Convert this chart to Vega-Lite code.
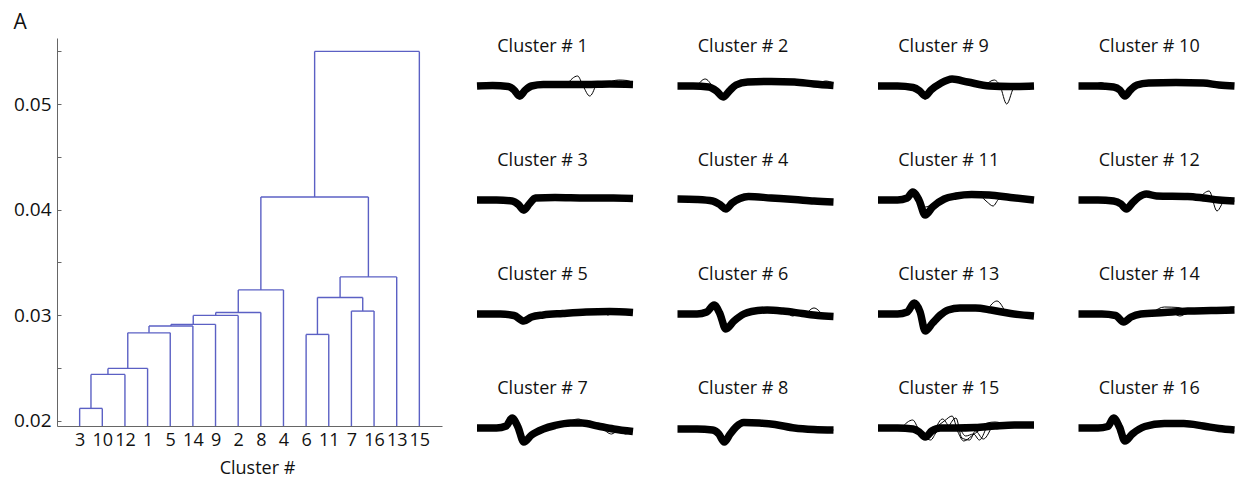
{
"$schema":"https://vega.github.io/schema/vega-lite/v6.json",
"padding":{"left":13,"top":12,"right":0,"bottom":0},
"title":{"text":"A","fontSize":21,"dx":0,"offset":5,"anchor":"start","frame":"bounds"},
"spacing":31,
"datasets":{
"dg":[
{"x":1,"x2":1,"y":0.0195,"y2":0.02117},{"x":1,"x2":2,"y":0.02117,"y2":0.02117},{"x":2,"x2":2,"y":0.0195,"y2":0.02117},
{"x":1.5,"x2":1.5,"y":0.02117,"y2":0.02439},{"x":1.5,"x2":3,"y":0.02439,"y2":0.02439},{"x":3,"x2":3,"y":0.0195,"y2":0.02439},
{"x":2.25,"x2":2.25,"y":0.02439,"y2":0.02496},{"x":2.25,"x2":4,"y":0.02496,"y2":0.02496},{"x":4,"x2":4,"y":0.0195,"y2":0.02496},
{"x":3.125,"x2":3.125,"y":0.02496,"y2":0.02833},{"x":3.125,"x2":5,"y":0.02833,"y2":0.02833},{"x":5,"x2":5,"y":0.0195,"y2":0.02833},
{"x":4.0625,"x2":4.0625,"y":0.02833,"y2":0.02897},{"x":4.0625,"x2":6,"y":0.02897,"y2":0.02897},{"x":6,"x2":6,"y":0.0195,"y2":0.02897},
{"x":5.031,"x2":5.031,"y":0.02897,"y2":0.02913},{"x":5.031,"x2":7,"y":0.02913,"y2":0.02913},{"x":7,"x2":7,"y":0.0195,"y2":0.02913},
{"x":6.016,"x2":6.016,"y":0.02913,"y2":0.02998},{"x":6.016,"x2":8,"y":0.02998,"y2":0.02998},{"x":8,"x2":8,"y":0.0195,"y2":0.02998},
{"x":7.008,"x2":7.008,"y":0.02998,"y2":0.03026},{"x":7.008,"x2":9,"y":0.03026,"y2":0.03026},{"x":9,"x2":9,"y":0.0195,"y2":0.03026},
{"x":8.004,"x2":8.004,"y":0.03026,"y2":0.0324},{"x":8.004,"x2":10,"y":0.0324,"y2":0.0324},{"x":10,"x2":10,"y":0.0195,"y2":0.0324},
{"x":11,"x2":11,"y":0.0195,"y2":0.02818},{"x":11,"x2":12,"y":0.02818,"y2":0.02818},{"x":12,"x2":12,"y":0.0195,"y2":0.02818},
{"x":13,"x2":13,"y":0.0195,"y2":0.03039},{"x":13,"x2":14,"y":0.03039,"y2":0.03039},{"x":14,"x2":14,"y":0.0195,"y2":0.03039},
{"x":11.5,"x2":11.5,"y":0.02818,"y2":0.03168},{"x":11.5,"x2":13.5,"y":0.03168,"y2":0.03168},{"x":13.5,"x2":13.5,"y":0.03039,"y2":0.03168},
{"x":12.5,"x2":12.5,"y":0.03168,"y2":0.03363},{"x":12.5,"x2":15,"y":0.03363,"y2":0.03363},{"x":15,"x2":15,"y":0.0195,"y2":0.03363},
{"x":9.002,"x2":9.002,"y":0.0324,"y2":0.0412},{"x":9.002,"x2":13.75,"y":0.0412,"y2":0.0412},{"x":13.75,"x2":13.75,"y":0.03363,"y2":0.0412},
{"x":11.376,"x2":11.376,"y":0.0412,"y2":0.055},{"x":11.376,"x2":16,"y":0.055,"y2":0.055},{"x":16,"x2":16,"y":0.0195,"y2":0.055}
],
"wf":[
{"c":1,"t":"m","s":0,"a":0},{"c":1,"t":"m","s":4,"a":0.5},{"c":1,"t":"m","s":8,"a":-0.5},{"c":1,"t":"m","s":9.5,"a":-4},{"c":1,"t":"m","s":10.9,"a":-10},{"c":1,"t":"m","s":12.4,"a":-4},{"c":1,"t":"m","s":14,"a":0},{"c":1,"t":"m","s":17,"a":1.5},{"c":1,"t":"m","s":22,"a":1.5},{"c":1,"t":"m","s":28,"a":1.5},{"c":1,"t":"m","s":34,"a":2},{"c":1,"t":"m","s":40,"a":1.5},
{"c":1,"t":"o1","s":23,"a":1.5},{"c":1,"t":"o1","s":25.8,"a":10},{"c":1,"t":"o1","s":27.2,"a":0},{"c":1,"t":"o1","s":28.9,"a":-10},{"c":1,"t":"o1","s":30.5,"a":1.5},
{"c":1,"t":"o2","s":33,"a":2},{"c":1,"t":"o2","s":36.3,"a":6},{"c":1,"t":"o2","s":38.5,"a":5.5},{"c":1,"t":"o2","s":40,"a":3},
{"c":1,"t":"o3","s":9,"a":-2},{"c":1,"t":"o3","s":10.9,"a":-13},{"c":1,"t":"o3","s":12.8,"a":-2},

{"c":2,"t":"m","s":0,"a":0},{"c":2,"t":"m","s":4,"a":0},{"c":2,"t":"m","s":8,"a":-1},{"c":2,"t":"m","s":10,"a":-5},{"c":2,"t":"m","s":11.7,"a":-11},{"c":2,"t":"m","s":13.3,"a":-5},{"c":2,"t":"m","s":15,"a":1},{"c":2,"t":"m","s":18,"a":4},{"c":2,"t":"m","s":24,"a":4.5},{"c":2,"t":"m","s":30,"a":4},{"c":2,"t":"m","s":35,"a":2},{"c":2,"t":"m","s":40,"a":0.5},
{"c":2,"t":"o1","s":5,"a":0},{"c":2,"t":"o1","s":7.1,"a":7},{"c":2,"t":"o1","s":9,"a":-1},
{"c":2,"t":"o2","s":36,"a":1.5},{"c":2,"t":"o2","s":38,"a":5},{"c":2,"t":"o2","s":40,"a":3},
{"c":2,"t":"o3","s":10,"a":-4},{"c":2,"t":"o3","s":11.7,"a":-13},{"c":2,"t":"o3","s":13.5,"a":-3},

{"c":9,"t":"m","s":0,"a":0},{"c":9,"t":"m","s":5,"a":0},{"c":9,"t":"m","s":9,"a":-1.5},{"c":9,"t":"m","s":10.7,"a":-5},{"c":9,"t":"m","s":12.1,"a":-10},{"c":9,"t":"m","s":13.6,"a":-4},{"c":9,"t":"m","s":16,"a":2.5},{"c":9,"t":"m","s":19,"a":7},{"c":9,"t":"m","s":23,"a":4},{"c":9,"t":"m","s":28.6,"a":0},{"c":9,"t":"m","s":34,"a":-0.5},{"c":9,"t":"m","s":40,"a":0},
{"c":9,"t":"o1","s":27.5,"a":0.5},{"c":9,"t":"o1","s":29.8,"a":6},{"c":9,"t":"o1","s":31.3,"a":0},{"c":9,"t":"o1","s":33,"a":-18},{"c":9,"t":"o1","s":35,"a":-1},{"c":9,"t":"o1","s":37,"a":0},
{"c":9,"t":"o2","s":10,"a":-2},{"c":9,"t":"o2","s":12.1,"a":-13},{"c":9,"t":"o2","s":14,"a":-2},

{"c":10,"t":"m","s":0,"a":0},{"c":10,"t":"m","s":5,"a":0},{"c":10,"t":"m","s":9,"a":-1},{"c":10,"t":"m","s":10.6,"a":-4},{"c":10,"t":"m","s":11.9,"a":-10},{"c":10,"t":"m","s":13.3,"a":-4},{"c":10,"t":"m","s":15,"a":1},{"c":10,"t":"m","s":18,"a":3},{"c":10,"t":"m","s":25,"a":3.5},{"c":10,"t":"m","s":32,"a":3},{"c":10,"t":"m","s":36,"a":1},{"c":10,"t":"m","s":40,"a":0},
{"c":10,"t":"o1","s":4,"a":0},{"c":10,"t":"o1","s":5.8,"a":3.5},{"c":10,"t":"o1","s":7.5,"a":0},
{"c":10,"t":"o2","s":10.5,"a":-3},{"c":10,"t":"o2","s":11.9,"a":-12},{"c":10,"t":"o2","s":13.5,"a":-2},

{"c":3,"t":"m","s":0,"a":0},{"c":3,"t":"m","s":5,"a":0},{"c":3,"t":"m","s":9,"a":-1},{"c":3,"t":"m","s":10.6,"a":-4.5},{"c":3,"t":"m","s":12,"a":-10},{"c":3,"t":"m","s":13.4,"a":-4},{"c":3,"t":"m","s":15,"a":2},{"c":3,"t":"m","s":20,"a":2.5},{"c":3,"t":"m","s":28,"a":2},{"c":3,"t":"m","s":35,"a":2},{"c":3,"t":"m","s":40,"a":1.5},
{"c":3,"t":"o1","s":10.5,"a":-3},{"c":3,"t":"o1","s":12,"a":-13},{"c":3,"t":"o1","s":13.6,"a":-2},

{"c":4,"t":"m","s":0,"a":1},{"c":4,"t":"m","s":5,"a":0.5},{"c":4,"t":"m","s":9,"a":-1},{"c":4,"t":"m","s":11,"a":-5},{"c":4,"t":"m","s":12.4,"a":-9},{"c":4,"t":"m","s":14,"a":-3},{"c":4,"t":"m","s":16,"a":1.5},{"c":4,"t":"m","s":18.2,"a":3.5},{"c":4,"t":"m","s":24,"a":2},{"c":4,"t":"m","s":30,"a":0.5},{"c":4,"t":"m","s":35,"a":-1},{"c":4,"t":"m","s":40,"a":-2},
{"c":4,"t":"o1","s":16,"a":3},{"c":4,"t":"o1","s":18,"a":5},{"c":4,"t":"o1","s":20,"a":2.5},
{"c":4,"t":"o2","s":11,"a":-4},{"c":4,"t":"o2","s":12.4,"a":-11},{"c":4,"t":"o2","s":14,"a":-2},

{"c":11,"t":"m","s":0,"a":0},{"c":11,"t":"m","s":5,"a":0},{"c":11,"t":"m","s":7.5,"a":2},{"c":11,"t":"m","s":8.9,"a":8},{"c":11,"t":"m","s":10.5,"a":0},{"c":11,"t":"m","s":12.1,"a":-15},{"c":11,"t":"m","s":14,"a":-7},{"c":11,"t":"m","s":17,"a":1},{"c":11,"t":"m","s":20,"a":4},{"c":11,"t":"m","s":24,"a":5.5},{"c":11,"t":"m","s":28.5,"a":5},{"c":11,"t":"m","s":34,"a":2.5},{"c":11,"t":"m","s":40,"a":0},
{"c":11,"t":"o1","s":10,"a":2},{"c":11,"t":"o1","s":12.1,"a":-7},{"c":11,"t":"o1","s":14,"a":-4},
{"c":11,"t":"o2","s":26,"a":5.5},{"c":11,"t":"o2","s":28,"a":-2},{"c":11,"t":"o2","s":29.5,"a":-6},{"c":11,"t":"o2","s":31,"a":1},{"c":11,"t":"o2","s":33,"a":3},
{"c":11,"t":"o3","s":22,"a":5},{"c":11,"t":"o3","s":24.5,"a":8},{"c":11,"t":"o3","s":27,"a":5.5},

{"c":12,"t":"m","s":0,"a":0},{"c":12,"t":"m","s":5,"a":0},{"c":12,"t":"m","s":9,"a":-1},{"c":12,"t":"m","s":10.9,"a":-4},{"c":12,"t":"m","s":12.3,"a":-9},{"c":12,"t":"m","s":13.8,"a":-3},{"c":12,"t":"m","s":15.5,"a":3},{"c":12,"t":"m","s":17.4,"a":6},{"c":12,"t":"m","s":20,"a":4},{"c":12,"t":"m","s":28,"a":3.5},{"c":12,"t":"m","s":32,"a":2},{"c":12,"t":"m","s":36,"a":0},{"c":12,"t":"m","s":40,"a":-1},
{"c":12,"t":"o1","s":31,"a":2},{"c":12,"t":"o1","s":33.5,"a":9},{"c":12,"t":"o1","s":35.5,"a":-11},{"c":12,"t":"o1","s":37.5,"a":-1},{"c":12,"t":"o1","s":40,"a":-1},
{"c":12,"t":"o2","s":15,"a":3},{"c":12,"t":"o2","s":17.4,"a":8},{"c":12,"t":"o2","s":20,"a":4},

{"c":5,"t":"m","s":0,"a":0},{"c":5,"t":"m","s":6,"a":0},{"c":5,"t":"m","s":9.5,"a":-1.5},{"c":5,"t":"m","s":12,"a":-7},{"c":5,"t":"m","s":14,"a":-3},{"c":5,"t":"m","s":17,"a":-1},{"c":5,"t":"m","s":22,"a":0.5},{"c":5,"t":"m","s":28,"a":2},{"c":5,"t":"m","s":34,"a":2.5},{"c":5,"t":"m","s":40,"a":1.5},
{"c":5,"t":"o1","s":10,"a":-2},{"c":5,"t":"o1","s":12.3,"a":-9},{"c":5,"t":"o1","s":14.5,"a":-3},
{"c":5,"t":"o2","s":30,"a":2},{"c":5,"t":"o2","s":32,"a":3.5},{"c":5,"t":"o2","s":33.5,"a":-1},{"c":5,"t":"o2","s":35,"a":2},

{"c":6,"t":"m","s":0,"a":0},{"c":6,"t":"m","s":5,"a":0},{"c":6,"t":"m","s":7.5,"a":2},{"c":6,"t":"m","s":9.4,"a":9},{"c":6,"t":"m","s":10.8,"a":1},{"c":6,"t":"m","s":12.4,"a":-15},{"c":6,"t":"m","s":14.5,"a":-7},{"c":6,"t":"m","s":17,"a":0},{"c":6,"t":"m","s":19,"a":2.5},{"c":6,"t":"m","s":23,"a":4},{"c":6,"t":"m","s":27,"a":3},{"c":6,"t":"m","s":32,"a":0.5},{"c":6,"t":"m","s":36,"a":-1.5},{"c":6,"t":"m","s":40,"a":-2.5},
{"c":6,"t":"o1","s":33,"a":0},{"c":6,"t":"o1","s":35,"a":6},{"c":6,"t":"o1","s":37,"a":0},
{"c":6,"t":"o2","s":28,"a":2.5},{"c":6,"t":"o2","s":29.5,"a":-2},{"c":6,"t":"o2","s":31,"a":1},

{"c":13,"t":"m","s":0,"a":0},{"c":13,"t":"m","s":5,"a":0},{"c":13,"t":"m","s":7.5,"a":2},{"c":13,"t":"m","s":9.3,"a":11},{"c":13,"t":"m","s":10.8,"a":2},{"c":13,"t":"m","s":12.1,"a":-17},{"c":13,"t":"m","s":14,"a":-9},{"c":13,"t":"m","s":16,"a":-1},{"c":13,"t":"m","s":18,"a":4},{"c":13,"t":"m","s":21,"a":6},{"c":13,"t":"m","s":25,"a":6},{"c":13,"t":"m","s":29,"a":4},{"c":13,"t":"m","s":34,"a":0.5},{"c":13,"t":"m","s":40,"a":-2},
{"c":13,"t":"o1","s":28,"a":4},{"c":13,"t":"o1","s":30.5,"a":13},{"c":13,"t":"o1","s":32.5,"a":3},

{"c":14,"t":"m","s":0,"a":0},{"c":14,"t":"m","s":6,"a":0},{"c":14,"t":"m","s":9.5,"a":-1.5},{"c":14,"t":"m","s":11.6,"a":-8},{"c":14,"t":"m","s":13.5,"a":-3},{"c":14,"t":"m","s":16,"a":0},{"c":14,"t":"m","s":22,"a":1.5},{"c":14,"t":"m","s":28,"a":3},{"c":14,"t":"m","s":34,"a":3.5},{"c":14,"t":"m","s":40,"a":4},
{"c":14,"t":"o1","s":19,"a":1.5},{"c":14,"t":"o1","s":22,"a":7},{"c":14,"t":"o1","s":25.5,"a":6.5},{"c":14,"t":"o1","s":28,"a":3},
{"c":14,"t":"o2","s":35,"a":3.5},{"c":14,"t":"o2","s":37.5,"a":3.5},{"c":14,"t":"o2","s":39,"a":7},{"c":14,"t":"o2","s":40,"a":7},
{"c":14,"t":"o3","s":24,"a":2.5},{"c":14,"t":"o3","s":26,"a":-2},{"c":14,"t":"o3","s":28,"a":2.5},

{"c":7,"t":"m","s":0,"a":0},{"c":7,"t":"m","s":5,"a":0},{"c":7,"t":"m","s":7.5,"a":2},{"c":7,"t":"m","s":9,"a":10},{"c":7,"t":"m","s":10.5,"a":1},{"c":7,"t":"m","s":12,"a":-14},{"c":7,"t":"m","s":14,"a":-7},{"c":7,"t":"m","s":17,"a":-1},{"c":7,"t":"m","s":20,"a":2.5},{"c":7,"t":"m","s":24,"a":5},{"c":7,"t":"m","s":27,"a":5},{"c":7,"t":"m","s":31,"a":2},{"c":7,"t":"m","s":35,"a":-1},{"c":7,"t":"m","s":40,"a":-3.5},
{"c":7,"t":"o1","s":23,"a":5},{"c":7,"t":"o1","s":26,"a":9},{"c":7,"t":"o1","s":28,"a":4.5},
{"c":7,"t":"o2","s":32,"a":1},{"c":7,"t":"o2","s":34.5,"a":-6},{"c":7,"t":"o2","s":36.5,"a":-2},{"c":7,"t":"o2","s":38,"a":-6},{"c":7,"t":"o2","s":40,"a":-3},

{"c":8,"t":"m","s":0,"a":-1},{"c":8,"t":"m","s":5,"a":-1},{"c":8,"t":"m","s":9,"a":-2},{"c":8,"t":"m","s":10.6,"a":-6},{"c":8,"t":"m","s":12,"a":-14},{"c":8,"t":"m","s":13.5,"a":-6},{"c":8,"t":"m","s":15,"a":1},{"c":8,"t":"m","s":17,"a":5.5},{"c":8,"t":"m","s":21,"a":5},{"c":8,"t":"m","s":25,"a":3.5},{"c":8,"t":"m","s":30,"a":0},{"c":8,"t":"m","s":35,"a":-1.5},{"c":8,"t":"m","s":40,"a":-2},
{"c":8,"t":"o1","s":34,"a":-1},{"c":8,"t":"o1","s":36,"a":-4},{"c":8,"t":"o1","s":37.5,"a":-1},{"c":8,"t":"o1","s":39,"a":-4},{"c":8,"t":"o1","s":40,"a":-2},

{"c":15,"t":"m","s":0,"a":0},{"c":15,"t":"m","s":5,"a":0},{"c":15,"t":"m","s":9,"a":-1},{"c":15,"t":"m","s":10.6,"a":-4},{"c":15,"t":"m","s":12.1,"a":-9},{"c":15,"t":"m","s":13.8,"a":-3},{"c":15,"t":"m","s":16,"a":0},{"c":15,"t":"m","s":20,"a":0},{"c":15,"t":"m","s":25,"a":0.5},{"c":15,"t":"m","s":30,"a":2},{"c":15,"t":"m","s":35,"a":3},{"c":15,"t":"m","s":40,"a":3},
{"c":15,"t":"o1","s":6,"a":0},{"c":15,"t":"o1","s":8.9,"a":8},{"c":15,"t":"o1","s":10.5,"a":-2},{"c":15,"t":"o1","s":12.1,"a":-10},{"c":15,"t":"o1","s":14,"a":-5},{"c":15,"t":"o1","s":16.5,"a":9},{"c":15,"t":"o1","s":18,"a":2},
{"c":15,"t":"o2","s":14,"a":-2},{"c":15,"t":"o2","s":17,"a":7},{"c":15,"t":"o2","s":19,"a":12},{"c":15,"t":"o2","s":20.5,"a":-4},{"c":15,"t":"o2","s":22,"a":-13},{"c":15,"t":"o2","s":24,"a":-8},{"c":15,"t":"o2","s":26,"a":-2},
{"c":15,"t":"o3","s":18,"a":0},{"c":15,"t":"o3","s":20,"a":10},{"c":15,"t":"o3","s":21.5,"a":-10},{"c":15,"t":"o3","s":23.5,"a":-12},{"c":15,"t":"o3","s":25,"a":-3},{"c":15,"t":"o3","s":27,"a":-11},{"c":15,"t":"o3","s":29,"a":0},
{"c":15,"t":"o4","s":12,"a":-9},{"c":15,"t":"o4","s":13.5,"a":-12},{"c":15,"t":"o4","s":15,"a":-4},{"c":15,"t":"o4","s":17,"a":1},
{"c":15,"t":"o5","s":26,"a":1},{"c":15,"t":"o5","s":28,"a":5},{"c":15,"t":"o5","s":30,"a":6},{"c":15,"t":"o5","s":33,"a":3},
{"c":15,"t":"o6","s":21,"a":0},{"c":15,"t":"o6","s":22.5,"a":-8},{"c":15,"t":"o6","s":24.5,"a":-6},{"c":15,"t":"o6","s":26,"a":-12},{"c":15,"t":"o6","s":27.5,"a":-2},

{"c":16,"t":"m","s":0,"a":0},{"c":16,"t":"m","s":5,"a":0},{"c":16,"t":"m","s":7.5,"a":1.5},{"c":16,"t":"m","s":9,"a":10},{"c":16,"t":"m","s":10.5,"a":1},{"c":16,"t":"m","s":11.9,"a":-13},{"c":16,"t":"m","s":13.8,"a":-6},{"c":16,"t":"m","s":17,"a":1.5},{"c":16,"t":"m","s":22,"a":4.5},{"c":16,"t":"m","s":27,"a":4.5},{"c":16,"t":"m","s":32,"a":2},{"c":16,"t":"m","s":36,"a":-0.5},{"c":16,"t":"m","s":40,"a":-2},
{"c":16,"t":"o1","s":36,"a":0},{"c":16,"t":"o1","s":38,"a":-3},{"c":16,"t":"o1","s":40,"a":-3}
]
},
"hconcat":[
{
"width":385,"height":388,
"data":{"name":"dg"},
"mark":{"type":"rule","color":"#5b60c4","strokeWidth":1.4},
"encoding":{
"x":{"field":"x","type":"quantitative","scale":{"domain":[0,17]},"axis":{"values":[1,2,3,4,5,6,7,8,9,10,11,12,13,14,15,16],"labelExpr":"['','3','10','12','1','5','14','9','2','8','4','6','11','7','16','13','15'][datum.value]","ticks":false,"labelPadding":5,"labelFontSize":18,"labelOverlap":false,"labelFlush":false,"title":"Cluster #","titleFontSize":18,"titlePadding":10,"titleX":200}},
"x2":{"field":"x2"},
"y":{"field":"y","type":"quantitative","scale":{"domain":[0.0195,0.05627],"zero":false,"nice":false},"axis":{"values":[0.02,0.025,0.03,0.035,0.04,0.045,0.05,0.055],"labelExpr":"round(datum.value*1000) % 10 == 0 ? format(datum.value, '.2f') : ''","tickSize":-4,"labelPadding":10,"labelFontSize":19,"labelOverlap":false,"labelFlush":false,"title":null}},
"y2":{"field":"y2"}
}
},
{
"data":{"name":"wf"},
"columns":4,
"spacing":{"row":41,"column":36.5},
"concat":[
{"title":"Cluster # 1","width":156,"height":73,"transform":[{"filter":"datum.c==1"}],"mark":{"type":"line","interpolate":"monotone","color":"#000","strokeJoin":"round"},"encoding":{"x":{"field":"s","type":"quantitative","scale":{"domain":[0,40]},"axis":null},"y":{"field":"a","type":"quantitative","scale":{"domain":[-25,48]},"axis":null},"detail":{"field":"t","type":"nominal"},"strokeWidth":{"condition":{"test":"datum.t=='m'","value":7.5},"value":1}}},
{"title":"Cluster # 2","width":156,"height":73,"transform":[{"filter":"datum.c==2"}],"mark":{"type":"line","interpolate":"monotone","color":"#000","strokeJoin":"round"},"encoding":{"x":{"field":"s","type":"quantitative","scale":{"domain":[0,40]},"axis":null},"y":{"field":"a","type":"quantitative","scale":{"domain":[-25,48]},"axis":null},"detail":{"field":"t","type":"nominal"},"strokeWidth":{"condition":{"test":"datum.t=='m'","value":7.5},"value":1}}},
{"title":"Cluster # 9","width":156,"height":73,"transform":[{"filter":"datum.c==9"}],"mark":{"type":"line","interpolate":"monotone","color":"#000","strokeJoin":"round"},"encoding":{"x":{"field":"s","type":"quantitative","scale":{"domain":[0,40]},"axis":null},"y":{"field":"a","type":"quantitative","scale":{"domain":[-25,48]},"axis":null},"detail":{"field":"t","type":"nominal"},"strokeWidth":{"condition":{"test":"datum.t=='m'","value":7.5},"value":1}}},
{"title":"Cluster # 10","width":156,"height":73,"transform":[{"filter":"datum.c==10"}],"mark":{"type":"line","interpolate":"monotone","color":"#000","strokeJoin":"round"},"encoding":{"x":{"field":"s","type":"quantitative","scale":{"domain":[0,40]},"axis":null},"y":{"field":"a","type":"quantitative","scale":{"domain":[-25,48]},"axis":null},"detail":{"field":"t","type":"nominal"},"strokeWidth":{"condition":{"test":"datum.t=='m'","value":7.5},"value":1}}},
{"title":"Cluster # 3","width":156,"height":73,"transform":[{"filter":"datum.c==3"}],"mark":{"type":"line","interpolate":"monotone","color":"#000","strokeJoin":"round"},"encoding":{"x":{"field":"s","type":"quantitative","scale":{"domain":[0,40]},"axis":null},"y":{"field":"a","type":"quantitative","scale":{"domain":[-25,48]},"axis":null},"detail":{"field":"t","type":"nominal"},"strokeWidth":{"condition":{"test":"datum.t=='m'","value":7.5},"value":1}}},
{"title":"Cluster # 4","width":156,"height":73,"transform":[{"filter":"datum.c==4"}],"mark":{"type":"line","interpolate":"monotone","color":"#000","strokeJoin":"round"},"encoding":{"x":{"field":"s","type":"quantitative","scale":{"domain":[0,40]},"axis":null},"y":{"field":"a","type":"quantitative","scale":{"domain":[-25,48]},"axis":null},"detail":{"field":"t","type":"nominal"},"strokeWidth":{"condition":{"test":"datum.t=='m'","value":7.5},"value":1}}},
{"title":"Cluster # 11","width":156,"height":73,"transform":[{"filter":"datum.c==11"}],"mark":{"type":"line","interpolate":"monotone","color":"#000","strokeJoin":"round"},"encoding":{"x":{"field":"s","type":"quantitative","scale":{"domain":[0,40]},"axis":null},"y":{"field":"a","type":"quantitative","scale":{"domain":[-25,48]},"axis":null},"detail":{"field":"t","type":"nominal"},"strokeWidth":{"condition":{"test":"datum.t=='m'","value":7.5},"value":1}}},
{"title":"Cluster # 12","width":156,"height":73,"transform":[{"filter":"datum.c==12"}],"mark":{"type":"line","interpolate":"monotone","color":"#000","strokeJoin":"round"},"encoding":{"x":{"field":"s","type":"quantitative","scale":{"domain":[0,40]},"axis":null},"y":{"field":"a","type":"quantitative","scale":{"domain":[-25,48]},"axis":null},"detail":{"field":"t","type":"nominal"},"strokeWidth":{"condition":{"test":"datum.t=='m'","value":7.5},"value":1}}},
{"title":"Cluster # 5","width":156,"height":73,"transform":[{"filter":"datum.c==5"}],"mark":{"type":"line","interpolate":"monotone","color":"#000","strokeJoin":"round"},"encoding":{"x":{"field":"s","type":"quantitative","scale":{"domain":[0,40]},"axis":null},"y":{"field":"a","type":"quantitative","scale":{"domain":[-25,48]},"axis":null},"detail":{"field":"t","type":"nominal"},"strokeWidth":{"condition":{"test":"datum.t=='m'","value":7.5},"value":1}}},
{"title":"Cluster # 6","width":156,"height":73,"transform":[{"filter":"datum.c==6"}],"mark":{"type":"line","interpolate":"monotone","color":"#000","strokeJoin":"round"},"encoding":{"x":{"field":"s","type":"quantitative","scale":{"domain":[0,40]},"axis":null},"y":{"field":"a","type":"quantitative","scale":{"domain":[-25,48]},"axis":null},"detail":{"field":"t","type":"nominal"},"strokeWidth":{"condition":{"test":"datum.t=='m'","value":7.5},"value":1}}},
{"title":"Cluster # 13","width":156,"height":73,"transform":[{"filter":"datum.c==13"}],"mark":{"type":"line","interpolate":"monotone","color":"#000","strokeJoin":"round"},"encoding":{"x":{"field":"s","type":"quantitative","scale":{"domain":[0,40]},"axis":null},"y":{"field":"a","type":"quantitative","scale":{"domain":[-25,48]},"axis":null},"detail":{"field":"t","type":"nominal"},"strokeWidth":{"condition":{"test":"datum.t=='m'","value":7.5},"value":1}}},
{"title":"Cluster # 14","width":156,"height":73,"transform":[{"filter":"datum.c==14"}],"mark":{"type":"line","interpolate":"monotone","color":"#000","strokeJoin":"round"},"encoding":{"x":{"field":"s","type":"quantitative","scale":{"domain":[0,40]},"axis":null},"y":{"field":"a","type":"quantitative","scale":{"domain":[-25,48]},"axis":null},"detail":{"field":"t","type":"nominal"},"strokeWidth":{"condition":{"test":"datum.t=='m'","value":7.5},"value":1}}},
{"title":"Cluster # 7","width":156,"height":73,"transform":[{"filter":"datum.c==7"}],"mark":{"type":"line","interpolate":"monotone","color":"#000","strokeJoin":"round"},"encoding":{"x":{"field":"s","type":"quantitative","scale":{"domain":[0,40]},"axis":null},"y":{"field":"a","type":"quantitative","scale":{"domain":[-25,48]},"axis":null},"detail":{"field":"t","type":"nominal"},"strokeWidth":{"condition":{"test":"datum.t=='m'","value":7.5},"value":1}}},
{"title":"Cluster # 8","width":156,"height":73,"transform":[{"filter":"datum.c==8"}],"mark":{"type":"line","interpolate":"monotone","color":"#000","strokeJoin":"round"},"encoding":{"x":{"field":"s","type":"quantitative","scale":{"domain":[0,40]},"axis":null},"y":{"field":"a","type":"quantitative","scale":{"domain":[-25,48]},"axis":null},"detail":{"field":"t","type":"nominal"},"strokeWidth":{"condition":{"test":"datum.t=='m'","value":7.5},"value":1}}},
{"title":"Cluster # 15","width":156,"height":73,"transform":[{"filter":"datum.c==15"}],"mark":{"type":"line","interpolate":"monotone","color":"#000","strokeJoin":"round"},"encoding":{"x":{"field":"s","type":"quantitative","scale":{"domain":[0,40]},"axis":null},"y":{"field":"a","type":"quantitative","scale":{"domain":[-25,48]},"axis":null},"detail":{"field":"t","type":"nominal"},"strokeWidth":{"condition":{"test":"datum.t=='m'","value":7.5},"value":1}}},
{"title":"Cluster # 16","width":156,"height":73,"transform":[{"filter":"datum.c==16"}],"mark":{"type":"line","interpolate":"monotone","color":"#000","strokeJoin":"round"},"encoding":{"x":{"field":"s","type":"quantitative","scale":{"domain":[0,40]},"axis":null},"y":{"field":"a","type":"quantitative","scale":{"domain":[-25,48]},"axis":null},"detail":{"field":"t","type":"nominal"},"strokeWidth":{"condition":{"test":"datum.t=='m'","value":7.5},"value":1}}}
]
}
],
"config":{
"font":"Open Sans",
"view":{"stroke":null},
"title":{"font":"Open Sans","fontSize":18,"fontWeight":"normal","anchor":"start","dx":24,"offset":-18,"color":"#111"},
"axis":{"labelFont":"Open Sans","titleFont":"Open Sans","labelColor":"#111","titleColor":"#111","titleFontWeight":"normal","domainColor":"#666","tickColor":"#666","grid":false}
}
}
